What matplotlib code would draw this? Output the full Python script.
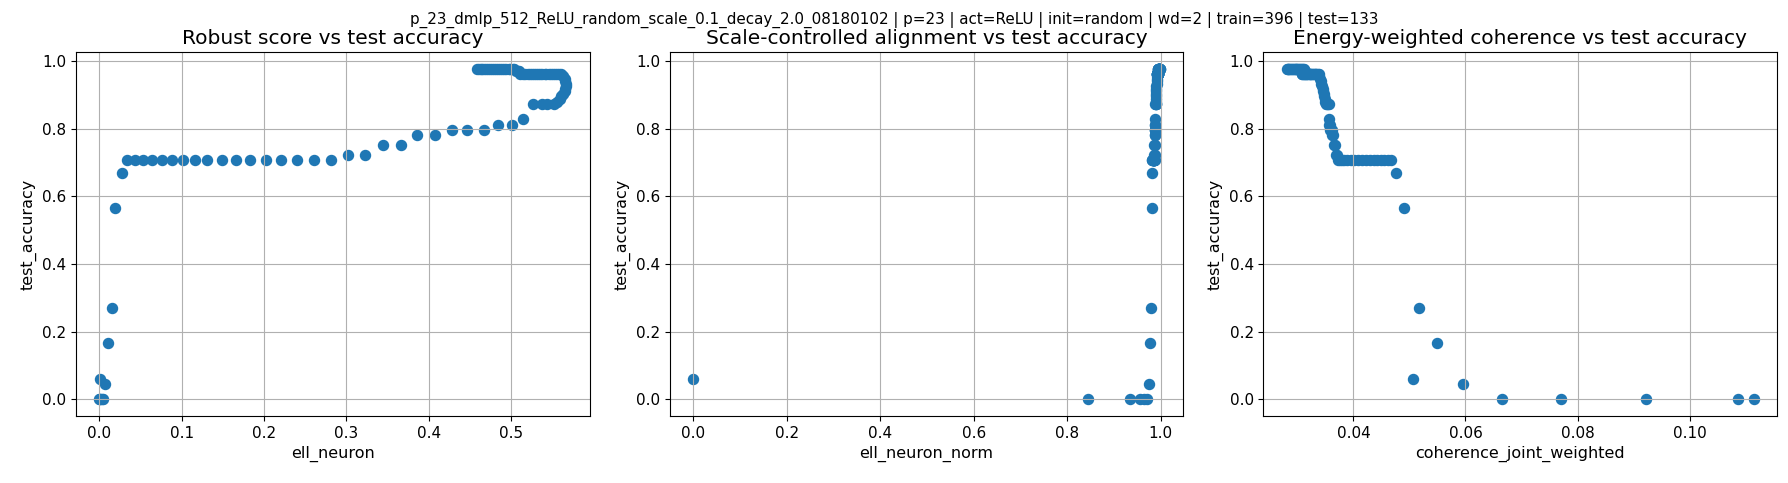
import matplotlib
matplotlib.use("Agg")
from matplotlib import pyplot as plt

# one entry per checkpoint
test_accuracy = [
    0.000, 0.000, 0.000, 0.000, 0.000,
    0.060, 0.045, 0.165, 0.271, 0.564, 0.669,
    0.707, 0.707, 0.707, 0.707, 0.707, 0.707, 0.707, 0.707, 0.707,
    0.707, 0.707, 0.707, 0.707, 0.707, 0.707, 0.707, 0.707,
    0.722, 0.722, 0.752, 0.752, 0.782, 0.782, 0.797, 0.797, 0.797, 0.812, 0.812, 0.827,
    0.872, 0.872, 0.872, 0.872,
    0.880, 0.887, 0.895, 0.902, 0.910, 0.917, 0.925, 0.932, 0.940, 0.947, 0.955,
    0.962, 0.962, 0.962, 0.962, 0.962, 0.962, 0.962, 0.962, 0.962, 0.962,
    0.962, 0.962, 0.962, 0.962, 0.962, 0.962, 0.962, 0.962, 0.962, 0.962,
    0.970, 0.970, 0.970,
    0.977, 0.977, 0.977, 0.977, 0.977, 0.977, 0.977, 0.977, 0.977, 0.977,
    0.977, 0.977, 0.977, 0.977, 0.977, 0.977, 0.977, 0.977, 0.977, 0.977,
]

ell_neuron = [
    0.000, 0.0005, 0.001, 0.0035, 0.004,
    0.001, 0.0066, 0.010, 0.015, 0.0195, 0.027,
    0.034, 0.043, 0.053, 0.064, 0.076, 0.088, 0.102, 0.116, 0.131,
    0.149, 0.166, 0.183, 0.202, 0.221, 0.240, 0.261, 0.281,
    0.302, 0.323, 0.344, 0.366, 0.386, 0.408, 0.428, 0.447, 0.467, 0.484, 0.501, 0.514,
    0.527, 0.537, 0.544, 0.552,
    0.556, 0.559, 0.561, 0.563, 0.565, 0.566, 0.567, 0.567, 0.566, 0.565, 0.563,
    0.561, 0.558, 0.556, 0.553, 0.551, 0.548, 0.546, 0.543, 0.541, 0.538,
    0.535, 0.533, 0.530, 0.528, 0.525, 0.523, 0.520, 0.517, 0.514, 0.511,
    0.510, 0.508, 0.506,
    0.504, 0.502, 0.499, 0.497, 0.494, 0.492, 0.489, 0.487, 0.484, 0.482,
    0.479, 0.477, 0.474, 0.472, 0.469, 0.467, 0.465, 0.463, 0.461, 0.459,
]

ell_neuron_norm = [
    0.845, 0.935, 0.955, 0.963, 0.970,
    0.000, 0.975, 0.977, 0.979, 0.9815, 0.9815,
    0.982, 0.982, 0.983, 0.983, 0.983, 0.984, 0.984, 0.984, 0.985,
    0.985, 0.985, 0.985, 0.986, 0.986, 0.986, 0.986, 0.987,
    0.986, 0.987, 0.986, 0.987, 0.987, 0.987, 0.988, 0.988, 0.988, 0.988, 0.988, 0.988,
    0.988, 0.989, 0.989, 0.989,
    0.989, 0.989, 0.990, 0.990, 0.990, 0.990, 0.990, 0.991, 0.991, 0.991, 0.991,
    0.991, 0.991, 0.991, 0.992, 0.992, 0.992, 0.992, 0.992, 0.993, 0.993,
    0.993, 0.993, 0.993, 0.993, 0.994, 0.994, 0.994, 0.994, 0.994, 0.994,
    0.994, 0.995, 0.995,
    0.995, 0.995, 0.995, 0.995, 0.996, 0.996, 0.996, 0.996, 0.996, 0.996,
    0.996, 0.997, 0.997, 0.997, 0.997, 0.997, 0.997, 0.998, 0.998, 0.998,
]

coherence_joint_weighted = [
    0.1114, 0.1086, 0.0922, 0.0771, 0.0666,
    0.0507, 0.0595, 0.0549, 0.0517, 0.0491, 0.0476,
    0.0467, 0.0461, 0.0455, 0.0449, 0.0443, 0.0436, 0.0429, 0.0422, 0.0415,
    0.0408, 0.0401, 0.0395, 0.0389, 0.0384, 0.0380, 0.0376, 0.0373,
    0.0371, 0.0369, 0.0368, 0.0366, 0.0364, 0.0362, 0.0361, 0.0360, 0.0359, 0.0358, 0.0357, 0.0357,
    0.0356, 0.0354, 0.0353, 0.0352,
    0.0350, 0.0349, 0.0348, 0.0347, 0.0346, 0.0345, 0.0344, 0.0343, 0.0342, 0.0341, 0.0339,
    0.0338, 0.0336, 0.0334, 0.0333, 0.0331, 0.0330, 0.0328, 0.0326, 0.0325, 0.0323,
    0.0322, 0.0320, 0.0318, 0.0317, 0.0315, 0.0314, 0.0312, 0.0311, 0.0309, 0.0308,
    0.0313, 0.0311, 0.0309,
    0.0312, 0.0310, 0.0308, 0.0307, 0.0305, 0.0303, 0.0302, 0.0300, 0.0298, 0.0297,
    0.0295, 0.0294, 0.0292, 0.0290, 0.0289, 0.0287, 0.0286, 0.0284, 0.0283, 0.0281,
]

panels = [
    (ell_neuron, "ell_neuron", "Robust score vs test accuracy"),
    (ell_neuron_norm, "ell_neuron_norm", "Scale-controlled alignment vs test accuracy"),
    (coherence_joint_weighted, "coherence_joint_weighted", "Energy-weighted coherence vs test accuracy"),
]

fig, axes = plt.subplots(1, 3, figsize=(17.88, 4.83), dpi=100)
fig.subplots_adjust(left=0.0425, right=0.9938, top=0.892, bottom=0.139, wspace=0.156)

for ax, (xs, xlabel, title) in zip(axes, panels):
    ax.scatter(xs, test_accuracy, s=52, color="C0")
    ax.set_xlabel(xlabel, fontsize=11.5)
    ax.set_ylabel("test_accuracy", fontsize=11.5)
    ax.set_title(title, fontsize=14.5)
    ax.tick_params(labelsize=11)
    ax.grid(True)

fig.suptitle("p_23_dmlp_512_ReLU_random_scale_0.1_decay_2.0_08180102 | p=23 | act=ReLU | "
             "init=random | wd=2 | train=396 | test=133", fontsize=10.9, y=0.976)

fig.savefig("out.png", dpi=100)
